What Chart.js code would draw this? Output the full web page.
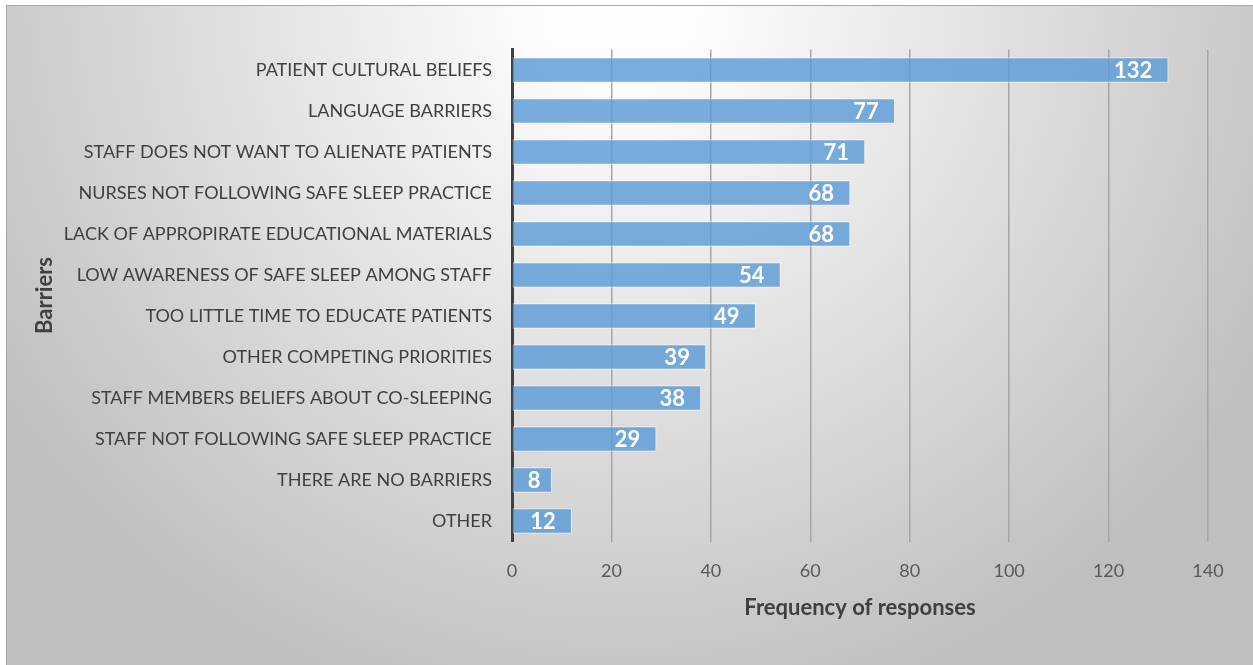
<!DOCTYPE html>
<html>
<head>
<meta charset="utf-8">
<script src="https://cdn.jsdelivr.net/npm/chart.js@4"></script>
<style>
  html, body { margin: 0; padding: 0; background: #fff; }
  #wrap { width: 1253px; height: 665px; position: relative; }
</style>
</head>
<body>
<div id="wrap"><canvas id="barriers"></canvas></div>
<script>
let categories = [
  'PATIENT CULTURAL BELIEFS',
  'LANGUAGE BARRIERS',
  'STAFF DOES NOT WANT TO ALIENATE PATIENTS',
  'NURSES NOT FOLLOWING SAFE SLEEP PRACTICE',
  'LACK OF APPROPIRATE EDUCATIONAL MATERIALS',
  'LOW AWARENESS OF SAFE SLEEP AMONG STAFF',
  'TOO LITTLE TIME TO EDUCATE PATIENTS',
  'OTHER COMPETING PRIORITIES',
  'STAFF MEMBERS BELIEFS ABOUT CO-SLEEPING',
  'STAFF NOT FOLLOWING SAFE SLEEP PRACTICE',
  'THERE ARE NO BARRIERS',
  'OTHER'
];
let responses = [132, 77, 71, 68, 68, 54, 49, 39, 38, 29, 8, 12];
let xTicks = [0, 20, 40, 60, 80, 100, 120, 140];
let xTitle = 'Frequency of responses';
let yTitle = 'Barriers';

let fontName = 'Lato, "Open Sans", sans-serif';

// grey radial backdrop like the office chart area
let backdrop = {
  id: 'backdrop',
  beforeDraw(chart) {
    let ctx = chart.ctx;
    ctx.save();
    ctx.fillStyle = '#ffffff';
    ctx.fillRect(0, 0, chart.width, chart.height);
    let g = ctx.createRadialGradient(620, 0, 0, 620, 0, 740);
    g.addColorStop(0, '#ffffff');
    g.addColorStop(0.12, '#fcfcfc');
    g.addColorStop(1, '#bfbfbf');
    ctx.fillStyle = g;
    ctx.fillRect(6, 6, chart.width - 6, chart.height - 6);
    ctx.fillStyle = '#a9a9a9';
    ctx.fillRect(6, 5, chart.width - 6, 1);
    ctx.fillRect(6, 5, 1, chart.height - 5);
    ctx.restore();
  }
};

// white value labels sitting inside the bar end
let valueLabels = {
  id: 'valueLabels',
  afterDatasetsDraw(chart) {
    let ctx = chart.ctx;
    let meta = chart.getDatasetMeta(0);
    ctx.save();
    ctx.font = 'bold 22px ' + fontName;
    ctx.fillStyle = '#ffffff';
    ctx.textBaseline = 'middle';
    ctx.textAlign = 'left';
    meta.data.forEach((bar, i) => {
      let txt = String(chart.data.datasets[0].data[i]);
      let w = ctx.measureText(txt).width;
      let left = bar.x - 16 - w;
      if (left < bar.base + 15) left = bar.base + 15;
      ctx.fillText(txt, left, bar.y + 1);
    });
    ctx.restore();
  }
};

let myChart = new Chart(document.getElementById('barriers'), {
  type: 'bar',
  data: {
    labels: categories,
    datasets: [{
      data: responses,
      backgroundColor: 'rgba(91, 155, 213, 0.82)',
      borderColor: 'rgba(255, 255, 255, 0.55)',
      borderWidth: 1,
      barThickness: 25
    }]
  },
  plugins: [backdrop, valueLabels],
  options: {
    indexAxis: 'y',
    animation: false,
    responsive: true,
    maintainAspectRatio: false,
    layout: {
      padding: { top: 49.5, right: 45, bottom: 0, left: 0 }
    },
    plugins: {
      legend: { display: false },
      tooltip: { enabled: false }
    },
    scales: {
      x: {
        min: 0,
        max: 140,
        afterBuildTicks: (s) => { s.ticks = xTicks.map(v => ({ value: v })); },
        afterFit: (s) => { s.height = 123.5; },
        grid: {
          drawTicks: false,
          color: (c) => c.tick && c.tick.value === 0 ? 'rgba(0,0,0,0)' : '#a6a6a6',
          lineWidth: 1.5
        },
        border: { display: false },
        ticks: {
          padding: 19,
          color: '#595959',
          font: { family: fontName, size: 18 }
        },
        title: {
          display: true,
          text: xTitle,
          color: '#404040',
          font: { family: fontName, size: 22, weight: 'bold' },
          padding: { top: 0, bottom: 44 }
        }
      },
      y: {
        afterFit: (s) => { s.width = 512; },
        grid: { display: false, drawTicks: false },
        border: { display: true, color: '#404040', width: 3 },
        ticks: {
          padding: 20,
          color: '#404040',
          font: { family: fontName, size: 18 }
        },
        title: {
          display: true,
          text: yTitle,
          color: '#404040',
          font: { family: fontName, size: 22, weight: 'bold' },
          padding: { top: 32, bottom: 0 }
        }
      }
    }
  }
});
</script>
</body>
</html>
